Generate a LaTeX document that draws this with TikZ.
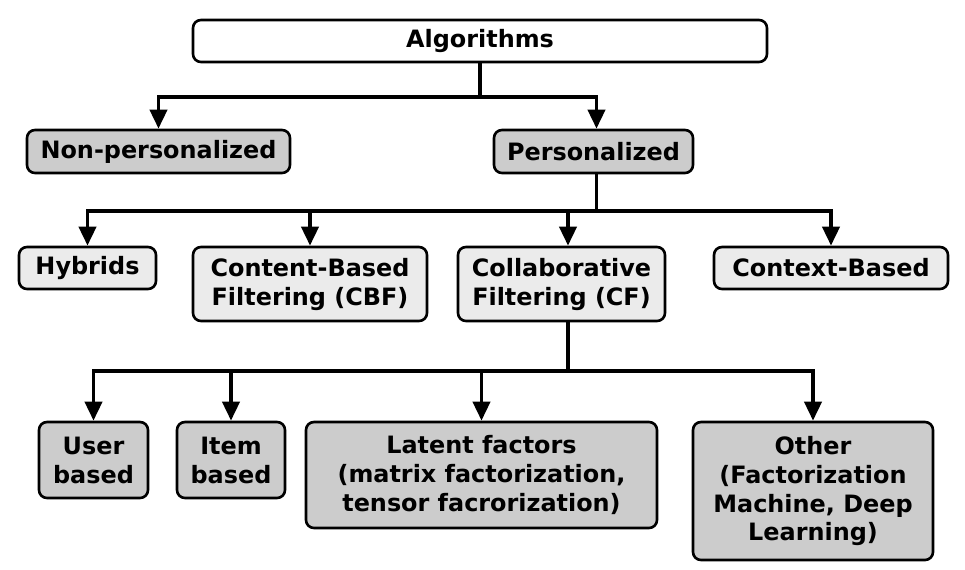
\documentclass[tikz,border=0pt]{standalone}
\usepackage{fontspec}
\setmainfont{DejaVu Sans}
\usetikzlibrary{arrows.meta}

\definecolor{boxdark}{HTML}{CCCCCC}
\definecolor{boxlight}{HTML}{EBEBEB}

\tikzset{
    box/.style={draw, line width=1.5pt, rounded corners=0.16cm, align=center,
        font=\fontsize{13.6}{16.5}\selectfont\bfseries, inner sep=0pt},
    dark/.style={box, fill=boxdark},
    light/.style={box, fill=boxlight},
    arr/.style={line width=2.2pt, -{Triangle[width=0.34cm,length=0.38cm]}}
}

\begin{document}
\begin{tikzpicture}
    \useasboundingbox (0,0) rectangle (19.3,-11.4);
    \node[box, fill=white, minimum width=11.48cm, minimum height=0.84cm] (alg) at (9.60,-0.82) {Algorithms};
    \node[dark, minimum width=5.26cm, minimum height=0.86cm] (nonp) at (3.17,-3.03) {Non-personalized};
    \node[dark, minimum width=3.98cm, minimum height=0.86cm] (pers) at (11.87,-3.03) {Personalized};
    \node[light, minimum width=2.74cm, minimum height=0.84cm] (hyb) at (1.75,-5.36) {Hybrids};
    \node[light, minimum width=4.68cm, minimum height=1.48cm] (cbf) at (6.20,-5.68) {Content-Based\\Filtering (CBF)};
    \node[light, minimum width=4.14cm, minimum height=1.48cm] (cf) at (11.23,-5.68) {Collaborative\\Filtering (CF)};
    \node[light, minimum width=4.68cm, minimum height=0.84cm] (ctx) at (16.62,-5.36) {Context-Based};
    \node[dark, minimum width=2.18cm, minimum height=1.52cm] (user) at (1.87,-9.20) {User\\based};
    \node[dark, minimum width=2.16cm, minimum height=1.52cm] (item) at (4.62,-9.20) {Item\\based};
    \node[dark, minimum width=7.02cm, minimum height=2.12cm] (lat) at (9.63,-9.50) {Latent factors\\(matrix factorization,\\tensor facrorization)};
    \node[dark, minimum width=4.80cm, minimum height=2.76cm] (oth) at (16.26,-9.82) {Other\\(Factorization\\Machine, Deep\\Learning)};

    % first level
    \draw[arr] (alg.south) -- ++(0,-0.68) -| (nonp.north);
    \draw[arr] (alg.south) -- ++(0,-0.68) -| ([xshift=0.06cm]pers.north);

    % second level
    \coordinate (pb) at ([xshift=0.06cm]pers.south);
    \draw[arr] (pb) -- ++(0,-0.74) -| (hyb.north);
    \draw[arr] (pb) -- ++(0,-0.74) -| (cbf.north);
    \draw[arr] (pb) -- ++(0,-0.74) -| ([xshift=0.13cm]cf.north);
    \draw[arr] (pb) -- ++(0,-0.74) -| (ctx.north);

    % third level
    \coordinate (cb) at ([xshift=0.13cm]cf.south);
    \draw[arr] (cb) -- ++(0,-0.98) -| (user.north);
    \draw[arr] (cb) -- ++(0,-0.98) -| (item.north);
    \draw[arr] (cb) -- ++(0,-0.98) -| (lat.north);
    \draw[arr] (cb) -- ++(0,-0.98) -| (oth.north);
\end{tikzpicture}
\end{document}
